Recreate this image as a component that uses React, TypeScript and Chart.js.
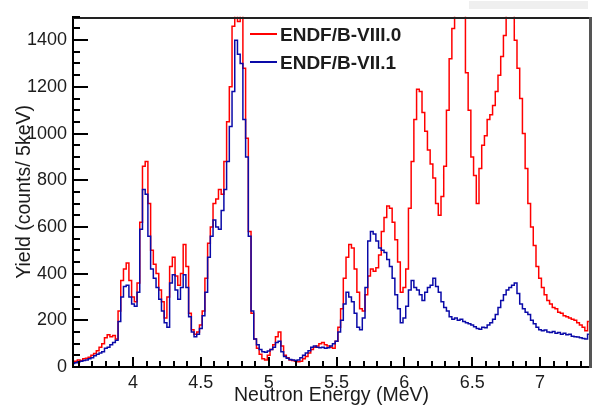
import React, { useEffect, useRef } from "react";
import { Chart, registerables } from "chart.js";

Chart.register(...registerables);

const BIN_START = 3.56;
const BIN_WIDTH = 0.02;
const X_MIN = 3.558;
const X_MAX = 7.368;
const Y_MIN = 0;
const Y_MAX = 1500;
const X_MAJOR_TICKS = [4, 4.5, 5, 5.5, 6, 6.5, 7];
const Y_MAJOR_TICKS = [0, 200, 400, 600, 800, 1000, 1200, 1400];
const X_MINOR_STEP = 0.1;
const Y_MINOR_STEP = 50;

const X_TITLE = "Neutron Energy (MeV)";
const Y_TITLE = "Yield (counts/ 5keV)";
const SERIES_NAMES = ["ENDF/B-VIII.0", "ENDF/B-VII.1"];

const endfb8 = [
  20, 25, 30, 28, 35, 38, 42, 50, 58, 70,
  85, 100, 125, 138, 130, 135, 120, 240, 370, 420,
  445, 370, 300, 280, 360, 620, 860, 880, 700, 500,
  440, 400, 330, 280, 210, 300, 430, 470, 390, 350,
  400, 525, 430, 230, 160, 140, 150, 180, 240, 380,
  530, 600, 700, 720, 760, 740, 880, 1050, 1200, 1460,
  1560, 1480, 1560, 1280, 980, 580, 230, 120, 80, 55,
  35, 30, 50, 75, 95, 130, 150, 90, 50, 40,
  30, 28, 25, 22, 25, 35, 45, 60, 75, 85,
  90, 100, 105, 95, 90, 85, 80, 110, 170, 250,
  380, 470, 525, 510, 420, 320, 250, 240, 310, 390,
  420, 410, 425, 480, 580, 640, 690, 680, 620, 545,
  450, 320, 340, 420, 680, 880, 1060, 1190, 1180, 1090,
  1010, 930, 870, 810, 700, 650, 730, 860, 1100, 1320,
  1450, 1600, 1700, 1650, 1520, 1260, 1100, 900, 820, 700,
  850, 950, 990, 1060, 1080, 1120, 1180, 1250, 1330, 1420,
  1600, 1650, 1550, 1400, 1280, 1150, 1000, 850, 700, 600,
  520, 430, 380, 340, 310, 285, 270, 255, 250, 235,
  230, 220, 215, 210, 205, 200, 190, 180, 170, 155,
  195,
];

const endfb7 = [
  15, 18, 22, 25, 28, 30, 35, 40, 48, 55,
  60, 65, 80, 85, 95, 105, 115, 195, 300, 345,
  350, 300, 270, 260, 320, 590, 760, 740, 560, 420,
  380, 340, 290, 240, 190, 170, 360, 395, 330, 290,
  340, 395, 340, 215, 150, 130, 140, 165, 220, 320,
  470, 560, 630, 600, 590, 670, 760, 880, 1030, 1180,
  1400, 1340, 1300, 1060, 900, 560, 240, 120, 95, 75,
  65, 63, 68, 75, 85, 105, 110, 65, 45, 38,
  32, 30, 28, 30, 40, 50, 60, 70, 85, 90,
  85, 82, 85, 80, 82, 90, 100, 110, 150, 200,
  270, 320, 300, 280, 230, 170, 160, 210, 340, 540,
  580, 570, 540, 510, 500, 490, 460, 430, 380, 310,
  250, 190, 210, 260, 330, 370, 340, 330, 310, 285,
  320, 340, 350, 380, 345, 320, 280, 255, 240, 215,
  205, 210, 200, 205, 195, 190, 185, 180, 172, 165,
  162, 170, 168, 180, 190, 205, 225, 255, 285, 310,
  330, 340, 350, 360, 315, 270, 250, 235, 225, 200,
  185, 170, 160, 155, 158, 150, 148, 152, 145, 148,
  140, 145, 138, 140, 132, 130, 128, 125, 122, 120,
  140,
];

const RED = "#ff0000";
const BLUE = "#0a0aa8";
const TEXT = "#1c1c1c";
const FONT = "'Liberation Sans', Arial, Helvetica, sans-serif";

const toPoints = (vals: number[]) =>
  vals.map((v, i) => ({ x: Math.round((BIN_START + i * BIN_WIDTH) * 1000) / 1000, y: v }));

const decorPlugin = {
  id: "rootDecor",
  afterDraw(chart: any) {
    const ctx: CanvasRenderingContext2D = chart.ctx;
    const a = chart.chartArea;
    const xs = chart.scales.x;
    const ys = chart.scales.y;
    const L = Math.round(a.left);
    const R = Math.round(a.right);
    const T = Math.round(a.top);
    const B = Math.round(a.bottom);
    ctx.save();

    ctx.fillStyle = "#efefef";
    ctx.fillRect(469, 1, 119, 8);

    // frame
    ctx.fillStyle = "#000000";
    ctx.fillRect(L - 1, T, 2, B - T + 1);
    ctx.fillRect(L - 1, B - 1, R - L + 2, 2);
    ctx.fillStyle = "#222222";
    ctx.fillRect(L, T, R - L, 2);
    ctx.fillStyle = "#555555";
    ctx.fillRect(R - 1, T, 3, B - T + 1);

    // ticks
    ctx.fillStyle = "#000000";
    const kx0 = Math.ceil(X_MIN / X_MINOR_STEP - 1e-6);
    const kx1 = Math.floor(X_MAX / X_MINOR_STEP + 1e-6);
    for (let k = kx0; k <= kx1; k++) {
      const v = k * X_MINOR_STEP;
      const major = X_MAJOR_TICKS.some((t) => Math.abs(t - v) < 1e-6);
      const px = Math.round(xs.getPixelForValue(v));
      const len = major ? 10 : 6;
      ctx.fillRect(px - 1, B - len, 2, len);
    }
    for (let v = Y_MIN; v <= Y_MAX + 1e-6; v += Y_MINOR_STEP) {
      const major = Y_MAJOR_TICKS.includes(v);
      const py = Math.round(ys.getPixelForValue(v));
      const len = major ? 16 : 8;
      ctx.fillRect(L - 1, py - 1, len, 2);
    }

    ctx.fillStyle = TEXT;
    ctx.font = `19.5px ${FONT}`;
    ctx.textAlign = "center";
    ctx.textBaseline = "middle";
    ctx.fillText(X_TITLE, (a.left + a.right) / 2, 396);
    ctx.save();
    ctx.translate(25, (a.top + a.bottom) / 2);
    ctx.rotate(-Math.PI / 2);
    ctx.fillText(Y_TITLE, 0, 0);
    ctx.restore();

    const rows = [
      { name: SERIES_NAMES[0], color: RED, y: 34 },
      { name: SERIES_NAMES[1], color: BLUE, y: 62 },
    ];
    ctx.font = `bold 19px ${FONT}`;
    ctx.textAlign = "left";
    rows.forEach((r) => {
      ctx.fillStyle = r.color;
      ctx.fillRect(250, r.y - 1, 27, 2);
      ctx.fillStyle = TEXT;
      ctx.fillText(r.name, 280, r.y + 1.5);
    });

    ctx.restore();
  },
};

export default function App() {
  const canvasRef = useRef<HTMLCanvasElement | null>(null);

  useEffect(() => {
    const canvas = canvasRef.current;
    if (!canvas) return;
    const tickFont = { family: FONT, size: 18 };
    const chart = new Chart(canvas, {
      type: "line",
      data: {
        datasets: [
          {
            label: SERIES_NAMES[1],
            data: toPoints(endfb7),
            borderColor: BLUE,
            borderWidth: 1.5,
            stepped: "middle",
            pointRadius: 0,
            fill: false,
          },
          {
            label: SERIES_NAMES[0],
            data: toPoints(endfb8),
            borderColor: RED,
            borderWidth: 1.5,
            stepped: "middle",
            pointRadius: 0,
            fill: false,
          },
        ],
      },
      options: {
        responsive: false,
        animation: false,
        devicePixelRatio: 1,
        layout: { padding: { top: 10, right: 10, left: 0, bottom: 0 } },
        plugins: { legend: { display: false }, tooltip: { enabled: false } },
        elements: { point: { radius: 0 } },
        scales: {
          x: {
            type: "linear",
            min: X_MIN,
            max: X_MAX,
            grid: { display: false, drawTicks: false },
            border: { display: false },
            afterBuildTicks: (s: any) => {
              s.ticks = X_MAJOR_TICKS.map((v) => ({ value: v }));
            },
            afterFit: (s: any) => {
              s.height = 46;
            },
            ticks: {
              font: tickFont,
              color: TEXT,
              padding: 5,
              maxRotation: 0,
              autoSkip: false,
              callback: (v: any) => String(v),
            },
          },
          y: {
            type: "linear",
            min: Y_MIN,
            max: Y_MAX,
            grid: { display: false, drawTicks: false },
            border: { display: false },
            afterBuildTicks: (s: any) => {
              s.ticks = Y_MAJOR_TICKS.map((v) => ({ value: v }));
            },
            afterFit: (s: any) => {
              s.width = 73;
            },
            ticks: {
              font: tickFont,
              color: TEXT,
              padding: 6,
              autoSkip: false,
              callback: (v: any) => String(v),
            },
          },
        },
      },
      plugins: [decorPlugin],
    } as any);
    return () => chart.destroy();
  }, []);

  return (
    <div style={{ position: "absolute", left: 0, top: 0, width: 600, height: 413, background: "#fff" }}>
      <canvas ref={canvasRef} width={600} height={413} style={{ display: "block" }} />
    </div>
  );
}
